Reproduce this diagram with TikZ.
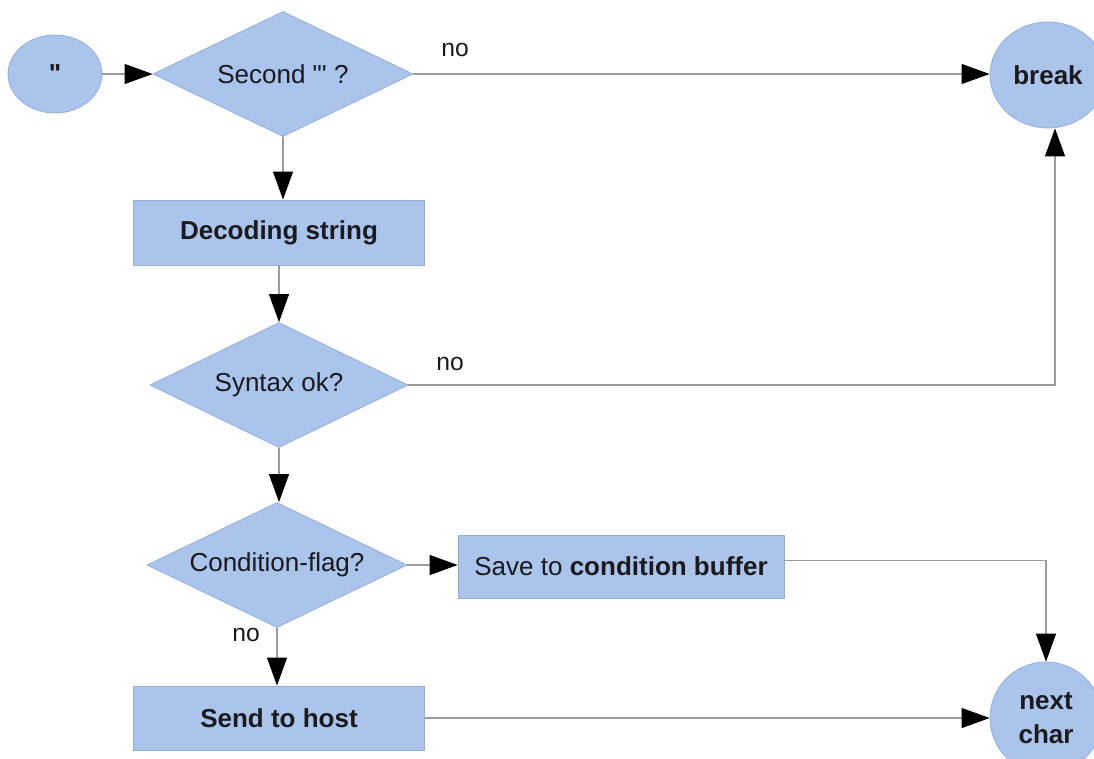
\documentclass[tikz,border=0pt]{standalone}
\usepackage{fontspec}
\newfontfamily\labelfont{Liberation Sans}
\usetikzlibrary{shapes.geometric,arrows.meta}
\definecolor{boxfill}{RGB}{170,196,236}
\definecolor{boxline}{RGB}{150,174,214}
\definecolor{wire}{RGB}{155,155,155}
\definecolor{ink}{RGB}{25,25,30}
\tikzset{
  every node/.style={font=\labelfont\fontsize{19.5}{25.5}\selectfont, text=ink},
  shapebase/.style={fill=boxfill, draw=boxline, line width=0.6pt, inner sep=0pt},
  term/.style={shapebase, ellipse},
  decision/.style={shapebase, diamond, aspect=2.08},
  process/.style={shapebase, rectangle},
  heavy/.style={font=\labelfont\bfseries\fontsize{19.5}{25.5}\selectfont},
  arr/.style={draw=wire, line width=0.8pt, -{Triangle[length=21pt,width=15pt,color=black]}},
  lbl/.style={font=\labelfont\fontsize{18.5}{22}\selectfont}
}
\begin{document}
\begin{tikzpicture}[x=0.75pt,y=-0.75pt]
\fill[white] (0,0) rectangle (1094,758);
\useasboundingbox (0,0) rectangle (1094,758);

% terminals
\node[term, heavy, minimum width=70.5pt, minimum height=58.5pt] (start) at (55,74) {"};
\node[term, heavy, minimum width=87pt, minimum height=79.5pt] (brk) at (1048,75) {break};
\node[term, heavy, align=center, minimum width=84pt, minimum height=84pt] (nxt) at (1046,718) {next\\char};

% main column
\node[decision, minimum width=195pt, minimum height=93.75pt] (q1) at (283,74) {Second "' ?};
\node[process, heavy, minimum width=218.25pt, minimum height=48.75pt] (dec) at (279,232.5) {Decoding string};
\node[decision, minimum width=193.5pt, minimum height=93.75pt] (q2) at (279,385) {Syntax ok?};
\node[decision, minimum width=195pt, minimum height=93.75pt] (q3) at (277,565) {Condition-flag?};
\node[process, heavy, minimum width=218.25pt, minimum height=48pt] (send) at (279,718) {Send to host};
\node[process, minimum width=244.5pt, minimum height=47.25pt] (save) at (621,566.5) {Save to \textbf{condition buffer}};

% branch labels
\node[lbl] (no1) at (455,50) {no};
\node[lbl] (no2) at (450,364) {no};
\node[lbl] (no3) at (246,635) {no};

% connectors
\draw[arr] (start.east) -- (start.east -| q1.west);
\draw[arr] (q1.east) -- (q1.east -| brk.west);
\draw[arr] (q1.south) -- (q1.south |- dec.north);
\draw[arr] (dec.south) -- (dec.south |- q2.north);
\draw[arr] (q2.east) -| ([xshift=5.25pt]brk.south);
\draw[arr] (q2.south) -- (q2.south |- q3.north);
\draw[arr] (q3.east) -- (q3.east -| save.west);
\draw[arr] ([yshift=4.5pt]save.east) -| (nxt.north);
\draw[arr] (q3.south) -- (q3.south |- send.north);
\draw[arr] (send.east) -- (send.east -| nxt.west);
\end{tikzpicture}
\end{document}
